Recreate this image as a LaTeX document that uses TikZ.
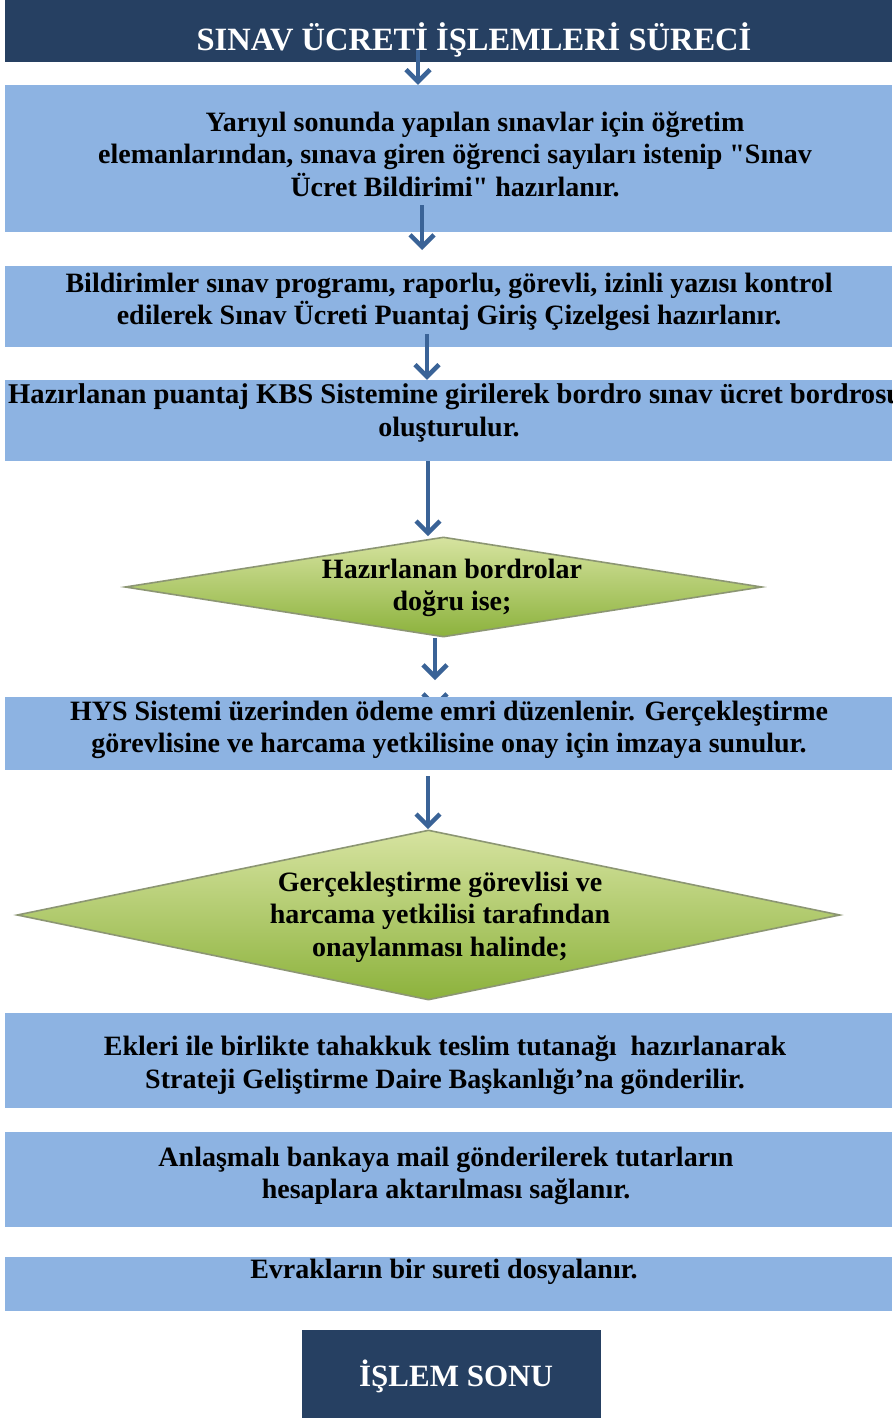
\documentclass[tikz,border=0pt]{standalone}
\usepackage{fontspec}
\setmainfont{Liberation Serif}
\usetikzlibrary{shapes.geometric,arrows.meta,calc}
\definecolor{navy}{RGB}{38,64,98}
\definecolor{lblue}{RGB}{141,179,226}
\definecolor{arrowblue}{RGB}{58,99,151}
\definecolor{gtop}{RGB}{214,227,160}
\definecolor{gbot}{RGB}{140,178,60}
\definecolor{gedge}{RGB}{140,150,115}
\tikzset{
  navybox/.style={rectangle, fill=navy, draw=none, inner sep=0pt},
  stepbox/.style={rectangle, fill=lblue, draw=none, inner sep=0pt},
  decision/.style={diamond, inner sep=0pt, top color=gtop, bottom color=gbot, draw=gedge, line width=1.6pt},
  txt/.style={align=center, inner sep=0pt, font=\bfseries\fontsize{28}{32.5}\selectfont},
  flow/.style={draw=arrowblue, line width=4.5pt, -{Straight Barb[length=12pt,width=24pt]}}
}
\begin{document}
\begin{tikzpicture}[x=1pt,y=-1pt]
\useasboundingbox (0,0) rectangle (892,1418);
\fill[white] (0,0) rectangle (892,1418);
% boxes
\node[navybox, minimum width=887pt, minimum height=62pt] (title) at (448.5,31) {};
\node[stepbox, minimum width=887pt, minimum height=147pt] (b1) at (448.5,158.5) {};
\node[stepbox, minimum width=887pt, minimum height=81pt] (b2) at (448.5,306.5) {};
\node[stepbox, minimum width=887pt, minimum height=81pt] (b3) at (448.5,420.5) {};
\node[decision, minimum width=637pt, minimum height=100pt] (d1) at (443.5,587) {};
% hidden arrow fragment under box 4
\coordinate (h1) at (435,699);
\coordinate (h2) at (435,709);
\draw[flow] (h1) -- (h2);
\node[stepbox, minimum width=887pt, minimum height=73pt] (b4) at (448.5,733.5) {};
\node[decision, minimum width=823pt, minimum height=170pt] (d2) at (428.5,915) {};
\node[stepbox, minimum width=887pt, minimum height=95pt] (b5) at (448.5,1060.5) {};
\node[stepbox, minimum width=887pt, minimum height=95pt] (b6) at (448.5,1179.5) {};
\node[stepbox, minimum width=887pt, minimum height=54pt] (b7) at (448.5,1284) {};
\node[navybox, minimum width=299pt, minimum height=88pt] (endb) at (451.5,1374) {};
% texts
\node[txt, text=white, font=\bfseries\fontsize{32.5}{34}\selectfont] (tt) at (474,40) {SINAV ÜCRETİ İŞLEMLERİ SÜRECİ};
\node[txt] (t1) at (455,154) {\hspace*{40pt}Yarıyıl sonunda yapılan sınavlar için öğretim\\elemanlarından, sınava giren öğrenci sayıları istenip \textquotedbl Sınav\\Ücret Bildirimi\textquotedbl{} hazırlanır.};
\node[txt] (t2) at (449,302) {Bildirimler sınav programı, raporlu, görevli, izinli yazısı kontrol\\edilerek Sınav Ücreti Puantaj Giriş Çizelgesi hazırlanır.};
\node[txt, anchor=west, align=left, font=\bfseries\fontsize{28.6}{32.5}\selectfont] (t3a) at (8,397) {Hazırlanan puantaj KBS Sistemine girilerek bordro sınav ücret bordrosu};
\node[txt] (t3b) at (449,430) {oluşturulur.};
\node[txt] (td1) at (452,588) {Hazırlanan bordrolar\\doğru ise;};
\node[txt] (t4) at (449,730) {HYS Sistemi üzerinden ödeme emri düzenlenir. Gerçekleştirme\\görevlisine ve harcama yetkilisine onay için imzaya sunulur.};
\node[txt] (td2) at (440,917) {Gerçekleştirme görevlisi ve\\harcama yetkilisi tarafından\\onaylanması halinde;};
\node[txt] (t5) at (445,1065) {Ekleri ile birlikte tahakkuk teslim tutanağı\ \ hazırlanarak\\Strateji Geliştirme Daire Başkanlığı’na gönderilir.};
\node[txt] (t6) at (446,1176) {Anlaşmalı bankaya mail gönderilerek tutarların\\hesaplara aktarılması sağlanır.};
\node[txt] (t7) at (444,1272) {Evrakların bir sureti dosyalanır.};
\node[txt, text=white, font=\bfseries\fontsize{31}{32}\selectfont] (te) at (456,1376) {İŞLEM SONU};
% connectors
\coordinate (a0) at (418,50);
\coordinate (a1) at (422,205);
\coordinate (a1e) at (422,250);
\coordinate (a2) at (427,334);
\coordinate (a3) at (428,461);
\coordinate (a4e) at (435,680);
\coordinate (a5) at (428,776);
\draw[flow] (a0) -- (a0 |- b1.north);
\draw[flow] (a1) -- (a1e);
\draw[flow] (a2) -- (a2 |- b3.north);
\draw[flow] (a3) -- (a3 |- d1.north);
\draw[flow] (a4e |- d1.south) -- (a4e);
\draw[flow] (a5) -- (a5 |- d2.north);
\end{tikzpicture}
\end{document}
